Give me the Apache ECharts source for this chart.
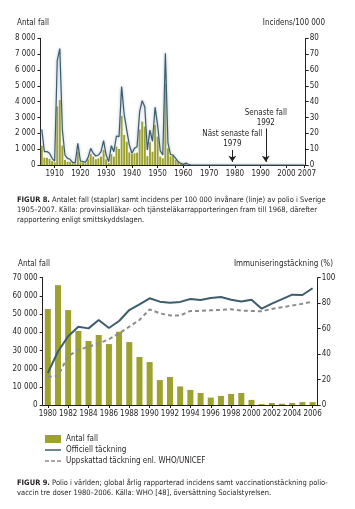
<!DOCTYPE html>
<html><head><meta charset="utf-8">
<script src="https://cdn.jsdelivr.net/npm/echarts@6/dist/echarts.min.js"></script>
<style>html,body{margin:0;padding:0;background:#fff}#c{width:355px;height:509px}</style>
</head><body><div id="c"></div>
<script>
// ---------- Figure 8 data (Sweden 1905–2007) ----------
const startYear8 = 1905, endYear8 = 2007;
const cases8 = [1220,460,460,380,250,170,3700,4100,1220,320,210,200,100,100,840,170,170,110,360,690,
  530,360,420,530,950,360,130,690,530,1160,1010,3100,1900,1470,800,700,740,780,2250,2740,
  2420,560,1440,840,2530,1790,530,420,5100,1050,550,590,340,200,80,30,60,20];
const incidence8 = [22.5,8.4,8.5,7.4,4.2,2.5,66,73.5,22,6.3,4.2,3.6,1.5,1.5,13.7,2.5,2.2,1.7,4.8,10.5,
  7.4,5.7,6.3,8.4,15.4,6.3,2.1,12.2,8.4,18.3,17.9,49.5,32,22,12.6,7.4,10.5,11.6,33.7,40.6,
  36.8,9.5,22,15,36.5,25,9,6.3,70.5,14,6.5,6.3,4.2,2,1.0,0.4,1.2,0.5,
  0,0,0,0,0,0,0,0,0,0,0,0,0,0,0,0,0,0,0,0,0,0,0,0,0,0,0,0,0,0,0,0,0,0,0,0,0,0,0,0,0,0,0,0,0];
const leftTicks8 = [0,1000,2000,3000,4000,5000,6000,7000,8000];
const rightTicks8 = [0,10,20,30,40,50,60,70,80];
const notes8 = [{year:'1979', text:'Näst senaste fall\n1979', top:9.5}, {year:'1992', text:'Senaste fall\n1992', top:23}];

// ---------- Figure 9 data (world 1980–2006) ----------
const years9 = ['1980','1981','1982','1983','1984','1985','1986','1987','1988','1989','1990','1991','1992','1993',
  '1994','1995','1996','1997','1998','1999','2000','2001','2002','2003','2004','2005','2006'];
const cases9 = [52800,65900,52200,40700,35200,38500,33500,40300,34600,26400,23600,13700,15400,10200,
  8300,6600,4050,5000,6100,6600,2800,500,1100,700,1100,1600,1600];
const official9 = [25,42,54,61.5,60.2,66.8,60.5,66,74.6,79,83.8,81.2,80.4,81,
  83.2,82.4,84,84.8,82.7,81.3,82.7,75.7,79.7,83.2,86.7,86.4,91.7];
const estimated9 = [22,22.8,38.5,43.2,45.8,48.4,51.6,56.3,61.5,66.8,75.1,72,70.4,70.3,
  73.9,73.9,74.4,74.7,75.2,74.1,73.9,73.6,75.5,76.8,78.1,79.5,81.3];

const years8 = [];
for (let y = startYear8; y <= endYear8; y++) years8.push(String(y));

const FONT = "'Liberation Sans Narrow','DejaVu Sans Condensed',sans-serif";
const INK = '#231f20';
const OLIVE = '#9ca12f';
const TEAL = '#3d5d6d';
const GREY = '#8a8c8e';
const thou = v => v === 0 ? '0' : (v / 1000) + ' 000';
const lbl = {fontFamily: FONT, fontSize: 8, color: INK};
const axLine = {show: true, lineStyle: {color: INK, width: 1}};
const tick = {show: true, length: 3, lineStyle: {color: INK, width: 1}};
const decade8 = (i, v) => (+v % 10 === 0);
const last8 = (i, v) => (v === String(endYear8));

const ICON_LINE = 'path://M0,0L0.01,0L0.01,0.01Z M0,3.2L16,3.2L16,4.8L0,4.8Z M0,8L0.01,8L0.01,7.99Z';
const ICON_DASH = 'path://M0,0L0.01,0L0.01,0.01Z M0,3.2L4,3.2L4,4.8L0,4.8Z M6,3.2L10,3.2L10,4.8L6,4.8Z M12,3.2L16,3.2L16,4.8L12,4.8Z M0,8L0.01,8L0.01,7.99Z';

const chart = echarts.init(document.getElementById('c'), null, {renderer: 'canvas'});
chart.setOption({
  animation: false,
  backgroundColor: '#fff',
  grid: [
    {left: 40.5, right: 49.3, top: 38.3, height: 126.7},
    {left: 42.7, right: 37.3, top: 277.7, height: 127.3}
  ],
  xAxis: [
    {type: 'category', gridIndex: 0, data: years8, boundaryGap: true,
     axisLine: axLine,
     axisTick: Object.assign({}, tick, {alignWithLabel: true, interval: decade8}),
     axisLabel: Object.assign({}, lbl, {margin: 5, interval: decade8}),
     splitLine: {show: false}},
    {type: 'category', gridIndex: 1, data: years9, boundaryGap: true,
     axisLine: axLine,
     axisTick: Object.assign({}, tick, {alignWithLabel: true, interval: 1}),
     axisLabel: Object.assign({}, lbl, {margin: 5, interval: 1}),
     splitLine: {show: false}},
    {type: 'category', gridIndex: 0, position: 'bottom', offset: 0, data: years8, boundaryGap: true,
     axisLine: {show: false},
     axisTick: Object.assign({}, tick, {alignWithLabel: true, interval: last8}),
     axisLabel: Object.assign({}, lbl, {margin: 5, interval: last8, showMaxLabel: true, padding: [0, 0, 0, 5]}),
     splitLine: {show: false}}
  ],
  yAxis: [
    {type: 'value', gridIndex: 0, min: leftTicks8[0], max: leftTicks8[leftTicks8.length - 1], interval: 1000,
     axisLine: axLine, axisTick: tick, splitLine: {show: false},
     axisLabel: Object.assign({}, lbl, {formatter: thou, margin: 5})},
    {type: 'value', gridIndex: 0, position: 'right', min: rightTicks8[0], max: rightTicks8[rightTicks8.length - 1], interval: 10,
     axisLine: axLine, axisTick: tick, splitLine: {show: false},
     axisLabel: Object.assign({}, lbl, {margin: 4})},
    {type: 'value', gridIndex: 1, min: 0, max: 70000, interval: 10000,
     axisLine: axLine, axisTick: tick, splitLine: {show: false},
     axisLabel: Object.assign({}, lbl, {formatter: thou, margin: 5})},
    {type: 'value', gridIndex: 1, position: 'right', min: 0, max: 100, interval: 20,
     axisLine: axLine, axisTick: tick, splitLine: {show: false},
     axisLabel: Object.assign({}, lbl, {margin: 4})}
  ],
  legend: {
    orient: 'vertical', left: 40, top: 430, itemGap: 3, itemWidth: 16, itemHeight: 8,
    textStyle: {fontFamily: FONT, fontSize: 8, color: INK},
    data: [
      {name: 'Antal fall', icon: 'rect'},
      {name: 'Officiell täckning', icon: ICON_LINE},
      {name: 'Uppskattad täckning enl. WHO/UNICEF', icon: ICON_DASH}
    ]
  },
  series: [
    {name: 'Antal fall 8', type: 'bar', xAxisIndex: 0, yAxisIndex: 0, data: cases8,
     barWidth: 2, itemStyle: {color: OLIVE}},
    {name: 'Incidens', type: 'line', xAxisIndex: 0, yAxisIndex: 1, data: incidence8,
     symbol: 'none',
     lineStyle: {color: TEAL, width: 1.2, shadowColor: 'rgba(160,178,190,0.95)', shadowBlur: 3},
     markLine: {
       silent: true, symbol: ['none', 'arrow'], symbolSize: 6,
       lineStyle: {color: INK, width: 1, type: 'solid', shadowBlur: 0},
       label: {position: 'start', fontFamily: FONT, fontSize: 8, color: INK, lineHeight: 10, align: 'center', distance: 1},
       data: notes8.map(n => [
         {coord: [n.year, n.top], name: n.text, label: {formatter: n.text}},
         {coord: [n.year, 2]}
       ])
     }},
    {name: 'Antal fall', type: 'bar', xAxisIndex: 1, yAxisIndex: 2, data: cases9,
     barWidth: 6, itemStyle: {color: OLIVE}},
    {name: 'Officiell täckning', type: 'line', xAxisIndex: 1, yAxisIndex: 3, data: official9,
     symbol: 'none', itemStyle: {color: TEAL}, lineStyle: {color: TEAL, width: 2}},
    {name: 'Uppskattad täckning enl. WHO/UNICEF', type: 'line', xAxisIndex: 1, yAxisIndex: 3, data: estimated9,
     symbol: 'none', itemStyle: {color: GREY}, lineStyle: {color: GREY, width: 2, type: [4, 3]}}
  ],
  graphic: [
    {type: 'text', left: 17, top: 19, style: {text: 'Antal fall', font: '8px ' + FONT, fill: INK}},
    {type: 'text', right: 30, top: 19, style: {text: 'Incidens/100 000', font: '8px ' + FONT, fill: INK}},
    {type: 'text', left: 18, top: 260, style: {text: 'Antal fall', font: '8px ' + FONT, fill: INK}},
    {type: 'text', right: 22, top: 260, style: {text: 'Immuniseringstäckning (%)', font: '8px ' + FONT, fill: INK}},
    {type: 'text', left: 17, top: 195, style: {
      text: '{b|FIGUR 8.} Antalet fall (staplar) samt incidens per 100 000 invånare (linje) av polio i Sverige\n1905–2007. Källa: provinsialläkar- och tjänsteläkarrapporteringen fram till 1968, därefter\nrapportering enligt smittskyddslagen.',
      font: '7.5px ' + FONT, fill: INK, lineHeight: 10,
      rich: {b: {fontWeight: 'bold', fontFamily: FONT, fontSize: 7.5, fill: INK}}}},
    {type: 'text', left: 17, top: 478, style: {
      text: '{b|FIGUR 9.} Polio i världen; global årlig rapporterad incidens samt vaccinationstäckning polio-\nvaccin tre doser 1980–2006. Källa: WHO [48], översättning Socialstyrelsen.',
      font: '7.5px ' + FONT, fill: INK, lineHeight: 10,
      rich: {b: {fontWeight: 'bold', fontFamily: FONT, fontSize: 7.5, fill: INK}}}}
  ]
});
</script></body></html>
